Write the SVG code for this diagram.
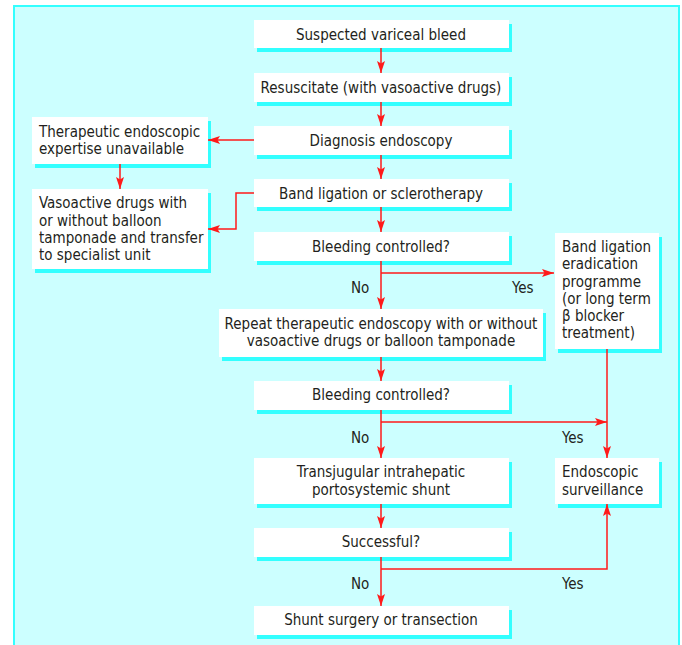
<svg xmlns="http://www.w3.org/2000/svg" width="682" height="645" viewBox="0 0 682 645">
<style>
.bg{fill:#ccffff;stroke:#33ffff;stroke-width:2}
.sh{fill:#33ffff}
.bx{fill:#ffffff}
text{font-family:"DejaVu Sans Condensed","Liberation Sans",sans-serif;font-size:15px;fill:#231f20}
.c{text-anchor:middle}
.ln{fill:none;stroke:#ff1a1a;stroke-width:1.5}
</style>
<defs>
<marker id="ah" viewBox="0 0 12 8" refX="12" refY="4" markerWidth="12" markerHeight="8" markerUnits="userSpaceOnUse" orient="auto">
<path d="M0,0 L12,4 L0,8 L2.5,4 Z" fill="#ff1a1a"/>
</marker>
</defs>
<rect class="bg" x="14" y="6" width="665" height="660"/>

<g id="n1"><rect class="sh" x="257" y="24" width="255" height="28"/><rect class="bx" x="254" y="20" width="255" height="28"/><text class="c" x="381" y="40">Suspected variceal bleed</text></g>
<g id="n2"><rect class="sh" x="257" y="77" width="255" height="29"/><rect class="bx" x="254" y="73" width="255" height="29"/><text class="c" x="381" y="93">Resuscitate (with vasoactive drugs)</text></g>
<g id="n3"><rect class="sh" x="257" y="130" width="255" height="29"/><rect class="bx" x="254" y="126" width="255" height="29"/><text class="c" x="381" y="146">Diagnosis endoscopy</text></g>
<g id="n4"><rect class="sh" x="257" y="183" width="255" height="28"/><rect class="bx" x="254" y="179" width="255" height="28"/><text class="c" x="381" y="199">Band ligation or sclerotherapy</text></g>
<g id="n5"><rect class="sh" x="257" y="236" width="255" height="29"/><rect class="bx" x="254" y="232" width="255" height="29"/><text class="c" x="381" y="252">Bleeding controlled?</text></g>
<g id="n6"><rect class="sh" x="222" y="313" width="324" height="48"/><rect class="bx" x="219" y="309" width="324" height="48"/><text class="c" x="381" y="329">Repeat therapeutic endoscopy with or without</text><text class="c" x="381" y="346">vasoactive drugs or balloon tamponade</text></g>
<g id="n7"><rect class="sh" x="257" y="385" width="255" height="29"/><rect class="bx" x="254" y="381" width="255" height="29"/><text class="c" x="381" y="400">Bleeding controlled?</text></g>
<g id="n8"><rect class="sh" x="257" y="462" width="255" height="46"/><rect class="bx" x="254" y="458" width="255" height="46"/><text class="c" x="381" y="477">Transjugular intrahepatic</text><text class="c" x="381" y="495">portosystemic shunt</text></g>
<g id="n9"><rect class="sh" x="257" y="532" width="255" height="29"/><rect class="bx" x="254" y="528" width="255" height="29"/><text class="c" x="381" y="547">Successful?</text></g>
<g id="n10"><rect class="sh" x="257" y="610" width="255" height="29"/><rect class="bx" x="254" y="606" width="255" height="29"/><text class="c" x="381" y="625">Shunt surgery or transection</text></g>

<g id="n11"><rect class="sh" x="35" y="121" width="176" height="47"/><rect class="bx" x="32" y="117" width="176" height="47"/><text x="39" y="137">Therapeutic endoscopic</text><text x="39" y="154">expertise unavailable</text></g>
<g id="n12"><rect class="sh" x="35" y="193" width="176" height="80"/><rect class="bx" x="32" y="189" width="176" height="80"/><text x="39" y="208">Vasoactive drugs with</text><text x="39" y="225.5">or without balloon</text><text x="39" y="243">tamponade and transfer</text><text x="39" y="260">to specialist unit</text></g>
<g id="n13"><rect class="sh" x="558" y="237" width="104" height="116"/><rect class="bx" x="555" y="233" width="104" height="116"/><text x="562" y="252">Band ligation</text><text x="562" y="269">eradication</text><text x="562" y="287">programme</text><text x="562" y="304">(or long term</text><text x="562" y="321">β blocker</text><text x="562" y="338">treatment)</text></g>
<g id="n14"><rect class="sh" x="558" y="462" width="104" height="46"/><rect class="bx" x="555" y="458" width="104" height="46"/><text x="562" y="477">Endoscopic</text><text x="562" y="495">surveillance</text></g>

<g id="connectors">
<path class="ln" d="M381,48 V73" marker-end="url(#ah)"/>
<path class="ln" d="M381,102 V126" marker-end="url(#ah)"/>
<path class="ln" d="M381,155 V179" marker-end="url(#ah)"/>
<path class="ln" d="M381,207 V232" marker-end="url(#ah)"/>
<path class="ln" d="M381,261 V309" marker-end="url(#ah)"/>
<path class="ln" d="M381,273 H554" marker-end="url(#ah)"/>
<path class="ln" d="M381,357 V381" marker-end="url(#ah)"/>
<path class="ln" d="M381,410 V458" marker-end="url(#ah)"/>
<path class="ln" d="M381,422 H607" marker-end="url(#ah)"/>
<path class="ln" d="M607,349 V458" marker-end="url(#ah)"/>
<path class="ln" d="M381,504 V528" marker-end="url(#ah)"/>
<path class="ln" d="M381,557 V606" marker-end="url(#ah)"/>
<path class="ln" d="M381,569 H607 V504" marker-end="url(#ah)"/>
<path class="ln" d="M254,140 H208" marker-end="url(#ah)"/>
<path class="ln" d="M120,164 V189" marker-end="url(#ah)"/>
<path class="ln" d="M254,193 H236 V229 H208" marker-end="url(#ah)"/>
<text x="351" y="293">No</text>
<text x="512" y="293">Yes</text>
<text x="351" y="443">No</text>
<text x="562" y="443">Yes</text>
<text x="351" y="589">No</text>
<text x="562" y="589">Yes</text>
</g>
</svg>
